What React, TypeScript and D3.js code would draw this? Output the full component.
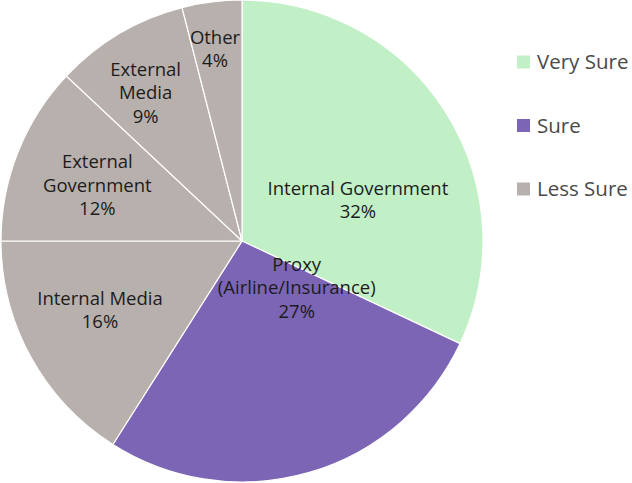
import React, { useEffect, useRef } from 'react';
import * as d3 from 'd3';

const categories = ['Internal Government', 'Proxy (Airline/Insurance)', 'Internal Media', 'External Government', 'External Media', 'Other'];
const values = [32, 27, 16, 12, 9, 4];
const certainty = ['Very Sure', 'Sure', 'Less Sure', 'Less Sure', 'Less Sure', 'Less Sure'];
// how each label is broken into lines
const labelLines = [
  ['Internal Government'],
  ['Proxy', '(Airline/Insurance)'],
  ['Internal Media'],
  ['External', 'Government'],
  ['External', 'Media'],
  ['Other'],
];
// where the labels sit: [angle in degrees from 12 o'clock, distance from centre]
const labelSpots = [[70.5, 123], [130.5, 72], [244, 158], [291, 155], [327, 177], [352, 194]];

const legendKeys = ['Very Sure', 'Sure', 'Less Sure'];
const legendColors = ['#c1f0c6', '#7b65b4', '#b8b0ad'];

export default function App() {
  const ref = useRef<SVGSVGElement>(null);

  useEffect(() => {
    document.body.style.margin = '0';
    const svg = d3.select(ref.current);
    svg.selectAll('*').remove();

    const cx = 242, cy = 241, radius = 241;
    const color = d3.scaleOrdinal<string, string>().domain(legendKeys).range(legendColors);

    const data = categories.map((c, i) => ({ label: c, value: values[i], key: certainty[i], i }));
    const pie = d3.pie<any>().sort(null).value(d => d.value);
    const arcs = pie(data);
    const arc = d3.arc<any>().innerRadius(0).outerRadius(radius);

    const g = svg.append('g').attr('transform', `translate(${cx},${cy})`);

    g.selectAll('path')
      .data(arcs)
      .enter()
      .append('path')
      .attr('d', arc)
      .attr('fill', d => color(d.data.key))
      .attr('stroke', '#fff')
      .attr('stroke-width', 1.2);

    const lineH = 23.5;
    arcs.forEach((a, i) => {
      const [ang, r] = labelSpots[i];
      const t = (ang * Math.PI) / 180;
      const x = r * Math.sin(t);
      const y = -r * Math.cos(t);
      const lines = [...labelLines[i], `${a.data.value}%`];
      const text = g.append('text')
        .attr('text-anchor', 'middle')
        .attr('font-family', '"Open Sans", sans-serif')
        .attr('font-size', 18.5)
        .attr('fill', '#1c1c1c');
      lines.forEach((ln, k) => {
        text.append('tspan')
          .attr('x', x)
          .attr('y', y + (k - (lines.length - 1) / 2) * lineH)
          .attr('dy', '0.35em')
          .text(ln);
      });
    });

    // legend
    const legendY = d3.scalePoint<string>().domain(legendKeys).range([62, 189]);
    const lg = svg.append('g');
    legendKeys.forEach(k => {
      const y = legendY(k)!;
      lg.append('rect')
        .attr('x', 517)
        .attr('y', y - 6.5)
        .attr('width', 13)
        .attr('height', 13)
        .attr('fill', color(k));
      lg.append('text')
        .attr('x', 537)
        .attr('y', y)
        .attr('dy', '0.35em')
        .attr('font-family', '"Open Sans", sans-serif')
        .attr('font-size', 20.5)
        .attr('fill', '#4a4a4a')
        .text(k);
    });
  }, []);

  return <svg ref={ref} width={632} height={483} style={{ display: 'block' }} />;
}
